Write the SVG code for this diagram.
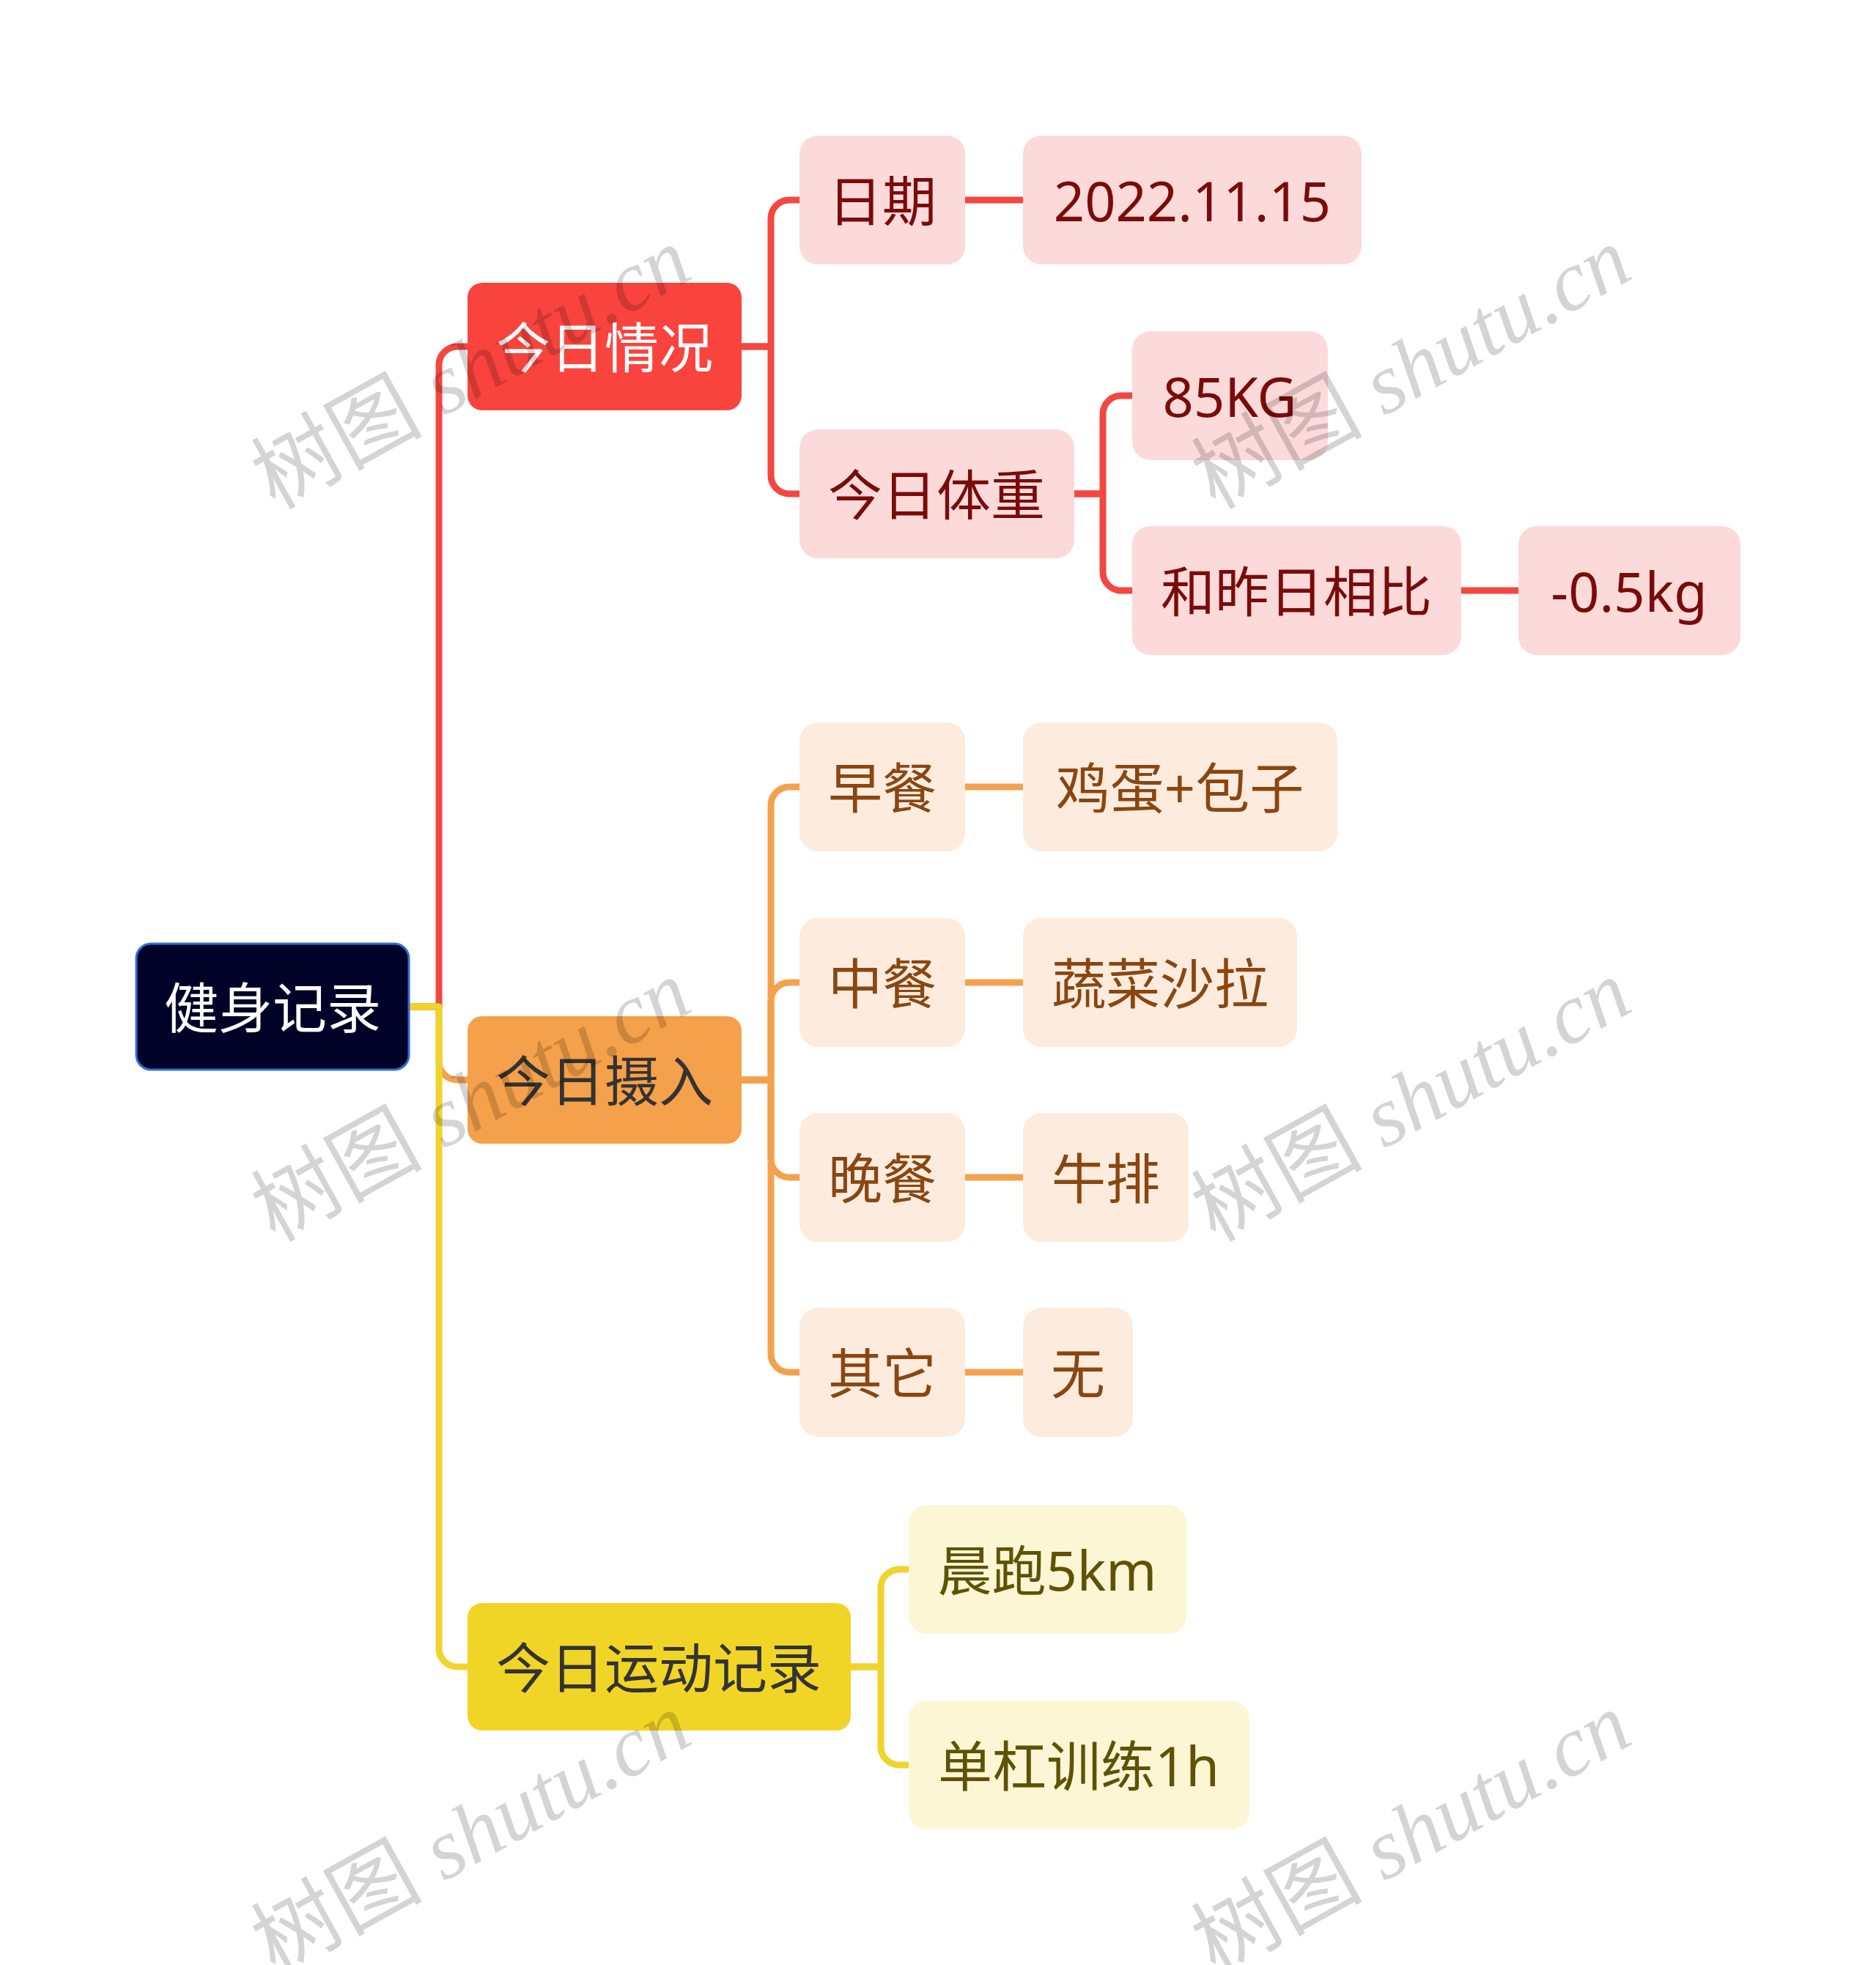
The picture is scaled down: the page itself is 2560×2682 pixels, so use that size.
<svg xmlns="http://www.w3.org/2000/svg" width="2560" height="2682" viewBox="0 0 2560 2682">
<style>
.t{font-family:"Noto Sans","Noto Sans CJK SC",sans-serif;font-size:74px;text-anchor:middle;dominant-baseline:central}
.c{fill:none;stroke-width:9;stroke-linejoin:round}
.cr{stroke:#F4473F}
.co{stroke:#F4A14E}
.cy{stroke:#F0D42B}
.r2{fill:#FDDADA}
.o2{fill:#FDECDD}
.y2{fill:#FCF6D4}
.tr{fill:#7A0B0B}
.to{fill:#8A4612}
.ty{fill:#5E5206}
.wm{font-family:"Liberation Serif","Noto Sans CJK SC",serif;font-size:117px;fill:#000;fill-opacity:0.17;text-anchor:middle}
</style>
<rect width="2560" height="2682" fill="#FFFFFF"/>
<g id="connectors">
<path class="c cr" d="M559 1374 H599 V498 A25 25 0 0 1 624 473 H638"/>
<path class="c co" d="M559 1374 H599 V1449 A25 25 0 0 0 624 1474 H638"/>
<path class="c cy" d="M559 1374 H599 V2250 A25 25 0 0 0 624 2275 H638"/>
<path class="c cr" d="M1012 473 H1052 V298 A25 25 0 0 1 1077 273 H1091"/>
<path class="c cr" d="M1012 473 H1052 V649 A25 25 0 0 0 1077 674 H1091"/>
<path class="c cr" d="M1317 273 H1396"/>
<path class="c cr" d="M1466 674 H1505 V565 A25 25 0 0 1 1530 540 H1545"/>
<path class="c cr" d="M1466 674 H1505 V781 A25 25 0 0 0 1530 806 H1545"/>
<path class="c cr" d="M1994 806 H2072"/>
<path class="c co" d="M1012 1474 H1052 V1099 A25 25 0 0 1 1077 1074 H1091"/>
<path class="c co" d="M1012 1474 H1052 V1366 A25 25 0 0 1 1077 1341 H1091"/>
<path class="c co" d="M1012 1474 H1052 V1582 A25 25 0 0 0 1077 1607 H1091"/>
<path class="c co" d="M1012 1474 H1052 V1848 A25 25 0 0 0 1077 1873 H1091"/>
<path class="c co" d="M1317 1074 H1396"/>
<path class="c co" d="M1317 1341 H1396"/>
<path class="c co" d="M1317 1607 H1396"/>
<path class="c co" d="M1317 1873 H1396"/>
<path class="c cy" d="M1161 2275 H1202 V2167 A25 25 0 0 1 1227 2142 H1240"/>
<path class="c cy" d="M1161 2275 H1202 V2384 A25 25 0 0 0 1227 2409 H1240"/>
</g>
<g id="root"><rect x="186" y="1288" width="372" height="172" rx="20" fill="#000327" stroke="#3070D8" stroke-width="3"/><text class="t" x="372" y="1374" fill="#FFFFFF">健身记录</text></g>
<g id="n-qingkuang"><rect x="638" y="386" width="374" height="174" rx="20" fill="#F9443D"/><text class="t" x="825" y="473" fill="#FFFFFF">今日情况</text></g>
<g id="n-sheru"><rect x="638" y="1387" width="374" height="174" rx="20" fill="#F5A04A"/><text class="t" x="825" y="1474" fill="#333333">今日摄入</text></g>
<g id="n-yundong"><rect x="638" y="2188" width="523" height="174" rx="20" fill="#F1D526"/><text class="t" x="899" y="2275" fill="#333333">今日运动记录</text></g>
<g id="n-riqi"><rect class="r2" x="1091" y="185" width="226" height="176" rx="25"/><text class="t tr" x="1204" y="273">日期</text></g>
<g id="n-date"><rect class="r2" x="1396" y="185" width="462" height="176" rx="25"/><text class="t tr" x="1627" y="273">2022.11.15</text></g>
<g id="n-tizhong"><rect class="r2" x="1091" y="586" width="375" height="176" rx="25"/><text class="t tr" x="1278" y="674">今日体重</text></g>
<g id="n-85kg"><rect class="r2" x="1545" y="452" width="267" height="176" rx="25"/><text class="t tr" x="1678" y="540">85KG</text></g>
<g id="n-bijiao"><rect class="r2" x="1545" y="718" width="449" height="176" rx="25"/><text class="t tr" x="1769" y="806">和昨日相比</text></g>
<g id="n-diff"><rect class="r2" x="2072" y="718" width="303" height="176" rx="25"/><text class="t tr" x="2223" y="806">-0.5kg</text></g>
<g id="n-zaocan"><rect class="o2" x="1091" y="986" width="226" height="176" rx="25"/><text class="t to" x="1204" y="1074">早餐</text></g>
<g id="n-jidan"><rect class="o2" x="1396" y="986" width="429" height="176" rx="25"/><text class="t to" x="1610" y="1074">鸡蛋+包子</text></g>
<g id="n-zhongcan"><rect class="o2" x="1091" y="1253" width="226" height="176" rx="25"/><text class="t to" x="1204" y="1341">中餐</text></g>
<g id="n-shala"><rect class="o2" x="1396" y="1253" width="374" height="176" rx="25"/><text class="t to" x="1583" y="1341">蔬菜沙拉</text></g>
<g id="n-wancan"><rect class="o2" x="1091" y="1519" width="226" height="176" rx="25"/><text class="t to" x="1204" y="1607">晚餐</text></g>
<g id="n-niupai"><rect class="o2" x="1396" y="1519" width="226" height="176" rx="25"/><text class="t to" x="1509" y="1607">牛排</text></g>
<g id="n-qita"><rect class="o2" x="1091" y="1785" width="226" height="176" rx="25"/><text class="t to" x="1204" y="1873">其它</text></g>
<g id="n-wu"><rect class="o2" x="1396" y="1785" width="150" height="176" rx="25"/><text class="t to" x="1471" y="1873">无</text></g>
<g id="n-chenpao"><rect class="y2" x="1240" y="2054" width="379" height="176" rx="25"/><text class="t ty" x="1429" y="2142">晨跑5km</text></g>
<g id="n-dangang"><rect class="y2" x="1240" y="2321" width="465" height="176" rx="25"/><text class="t ty" x="1472" y="2409">单杠训练1h</text></g>
<g id="watermarks">
<text class="wm" transform="translate(662 537) rotate(-29)"><tspan font-family="Noto Sans CJK SC">树图</tspan><tspan font-style="italic"> shutu.cn</tspan></text>
<text class="wm" transform="translate(1945 537) rotate(-29)"><tspan font-family="Noto Sans CJK SC">树图</tspan><tspan font-style="italic"> shutu.cn</tspan></text>
<text class="wm" transform="translate(662 1537) rotate(-29)"><tspan font-family="Noto Sans CJK SC">树图</tspan><tspan font-style="italic"> shutu.cn</tspan></text>
<text class="wm" transform="translate(1945 1537) rotate(-29)"><tspan font-family="Noto Sans CJK SC">树图</tspan><tspan font-style="italic"> shutu.cn</tspan></text>
<text class="wm" transform="translate(662 2537) rotate(-29)"><tspan font-family="Noto Sans CJK SC">树图</tspan><tspan font-style="italic"> shutu.cn</tspan></text>
<text class="wm" transform="translate(1945 2537) rotate(-29)"><tspan font-family="Noto Sans CJK SC">树图</tspan><tspan font-style="italic"> shutu.cn</tspan></text>
</g>
</svg>
